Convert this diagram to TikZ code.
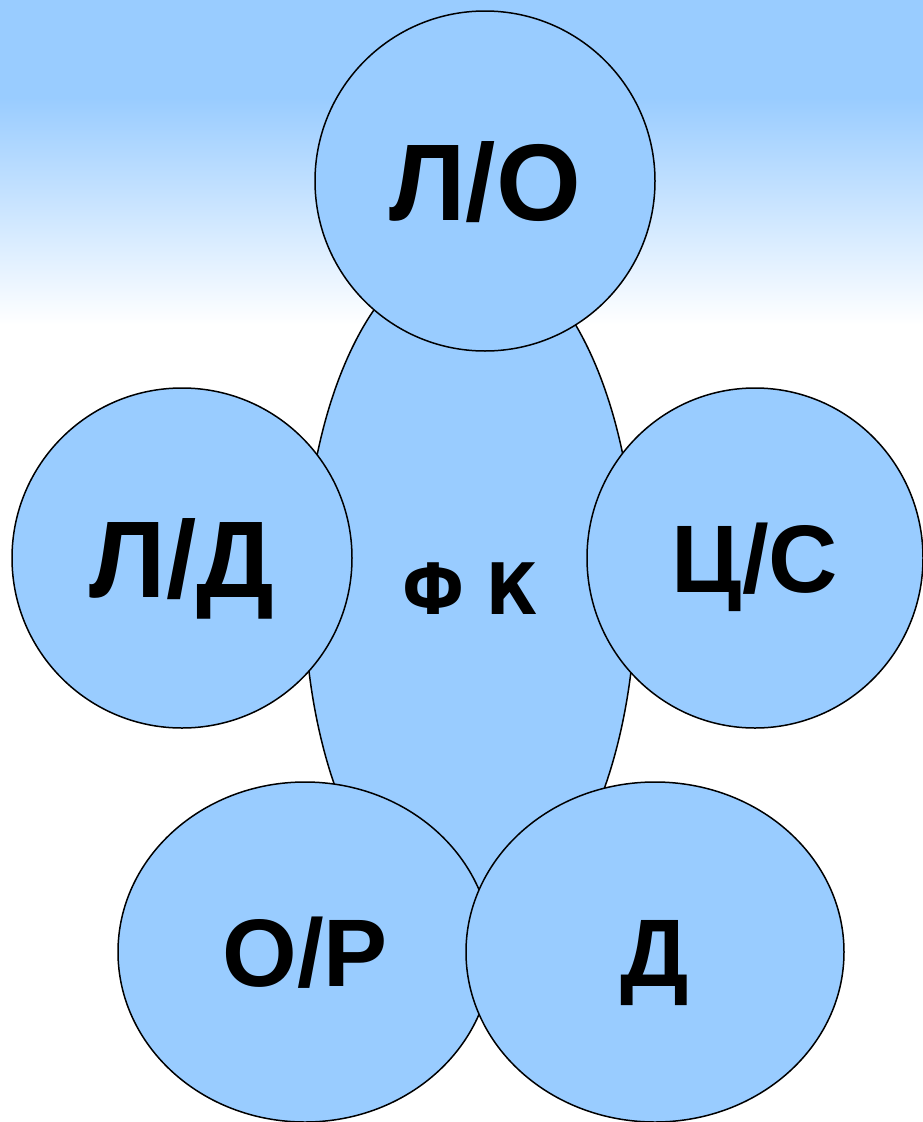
\documentclass[tikz,border=0pt]{standalone}
\usepackage{fontspec}
\setmainfont{Liberation Sans}
\newfontfamily\fkfont[FakeStretch=0.88]{DejaVu Sans}
\usetikzlibrary{shapes.geometric}
\definecolor{petalblue}{HTML}{99CCFF}

\begin{document}
\begin{tikzpicture}[x=1pt, y=-1pt,
  petal/.style={ellipse, draw, line width=1.5pt, fill=petalblue, inner sep=0pt,
    text height=78pt, text depth=0pt, font=\fontsize{109}{120}\selectfont\bfseries},
  small/.style={text height=69pt, font=\fontsize{96}{110}\selectfont\bfseries},
  core/.style={petal, text height=52pt, font=\fkfont\fontsize{71}{80}\selectfont\bfseries}]
\useasboundingbox (0,0) rectangle (923,1122);
\fill[petalblue] (0,0) rectangle (923,97);
\shade[top color=petalblue, bottom color=white] (0,97) rectangle (923,325);
\node[core, minimum width=332pt, minimum height=682pt] (fk) at (470,588) {Ф К};
\node[petal, minimum width=340pt, minimum height=340pt] (lo) at (485,181) {Л/О};
\node[petal, minimum width=340pt, minimum height=340pt] (ld) at (182,558) {Л/Д};
\node[petal, small, minimum width=336pt, minimum height=340pt] (cs) at (755,558) {Ц/С};
\node[petal, small, minimum width=374pt, minimum height=340pt] (or) at (305,952) {О/Р};
\node[petal, small, minimum width=378pt, minimum height=340pt] (d) at (655,952) {Д};
\end{tikzpicture}
\end{document}
